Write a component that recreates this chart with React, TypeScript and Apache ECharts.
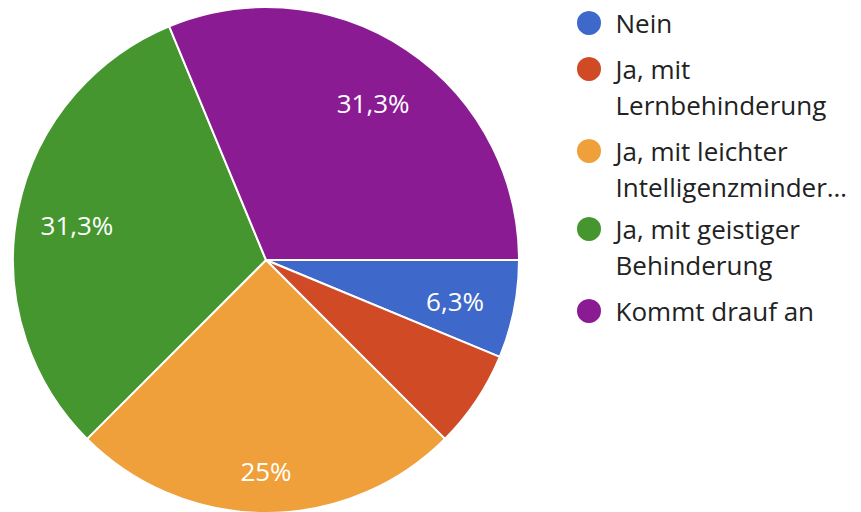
import React, { useEffect, useRef } from "react";
import * as echarts from "echarts";

const categories = [
  "Nein",
  "Ja, mit Lernbehinderung",
  "Ja, mit leichter Intelligenzminderung",
  "Ja, mit geistiger Behinderung",
  "Kommt drauf an",
];
const counts = [1, 1, 4, 5, 5];
const legendLabels = [
  "Nein",
  "Ja, mit\nLernbehinderung",
  "Ja, mit leichter\nIntelligenzminder…",
  "Ja, mit geistiger\nBehinderung",
  "Kommt drauf an",
];
const showPctLabel = [true, false, true, true, true];
const colors = ["#3e68c9", "#cf4a25", "#f0a03a", "#45962f", "#8a1b93"];
const legendTops = [5, 15, 97, 175, 293];

const FONT = "'Open Sans', 'Noto Sans', sans-serif";

export default function App() {
  const ref = useRef<HTMLDivElement>(null);
  useEffect(() => {
    if (!ref.current) return;
    const chart = echarts.init(ref.current, null, { renderer: "svg" });
    const total = counts.reduce((a, b) => a + b, 0);
    const pct = (v: number) => {
      let s = ((v / total) * 100).toFixed(1);
      if (s.endsWith(".0")) s = s.slice(0, -2);
      return s.replace(".", ",") + "%";
    };
    const center = [266, 260];
    const R = 253;
    const legends = categories.map((name, i) => {
      const twoLine = legendLabels[i].includes("\n");
      return {
        orient: "vertical",
        left: 575,
        top: legendTops[i],
        padding: 0,
        itemWidth: 43,
        itemHeight: 26,
        icon: "circle",
        selectedMode: false,
        data: [name],
        // an empty first line keeps the first text line level with the icon
        formatter: () => (twoLine ? "\n" + legendLabels[i] : legendLabels[i]),
        textStyle: {
          fontFamily: FONT,
          fontSize: 26,
          color: "#222222",
          lineHeight: 36,
        },
      };
    });
    chart.setOption({
      animation: false,
      color: colors,
      legend: legends,
      series: [
        {
          type: "pie",
          center,
          radius: [0, R],
          startAngle: 0,
          clockwise: true,
          silent: true,
          label: { show: false },
          labelLine: { show: false },
          itemStyle: { borderColor: "#ffffff", borderWidth: 2 },
          data: categories.map((name, i) => ({ name, value: counts[i] })),
        },
        {
          type: "pie",
          center,
          radius: [R * 0.5, R],
          startAngle: 0,
          clockwise: true,
          silent: true,
          itemStyle: { color: "transparent", borderWidth: 0 },
          labelLine: { show: false },
          label: {
            show: true,
            position: "inside",
            color: "#ffffff",
            fontFamily: FONT,
            fontSize: 26,
            formatter: (p: any) => pct(p.value),
          },
          data: categories.map((name, i) => ({
            name,
            value: counts[i],
            label: { show: showPctLabel[i], offset: i === 2 ? [0, 18] : [0, 3] },
          })),
        },
      ],
    });
    return () => chart.dispose();
  }, []);
  return (
    <div
      ref={ref}
      style={{ position: "absolute", left: 0, top: 0, width: 861, height: 512 }}
    />
  );
}
